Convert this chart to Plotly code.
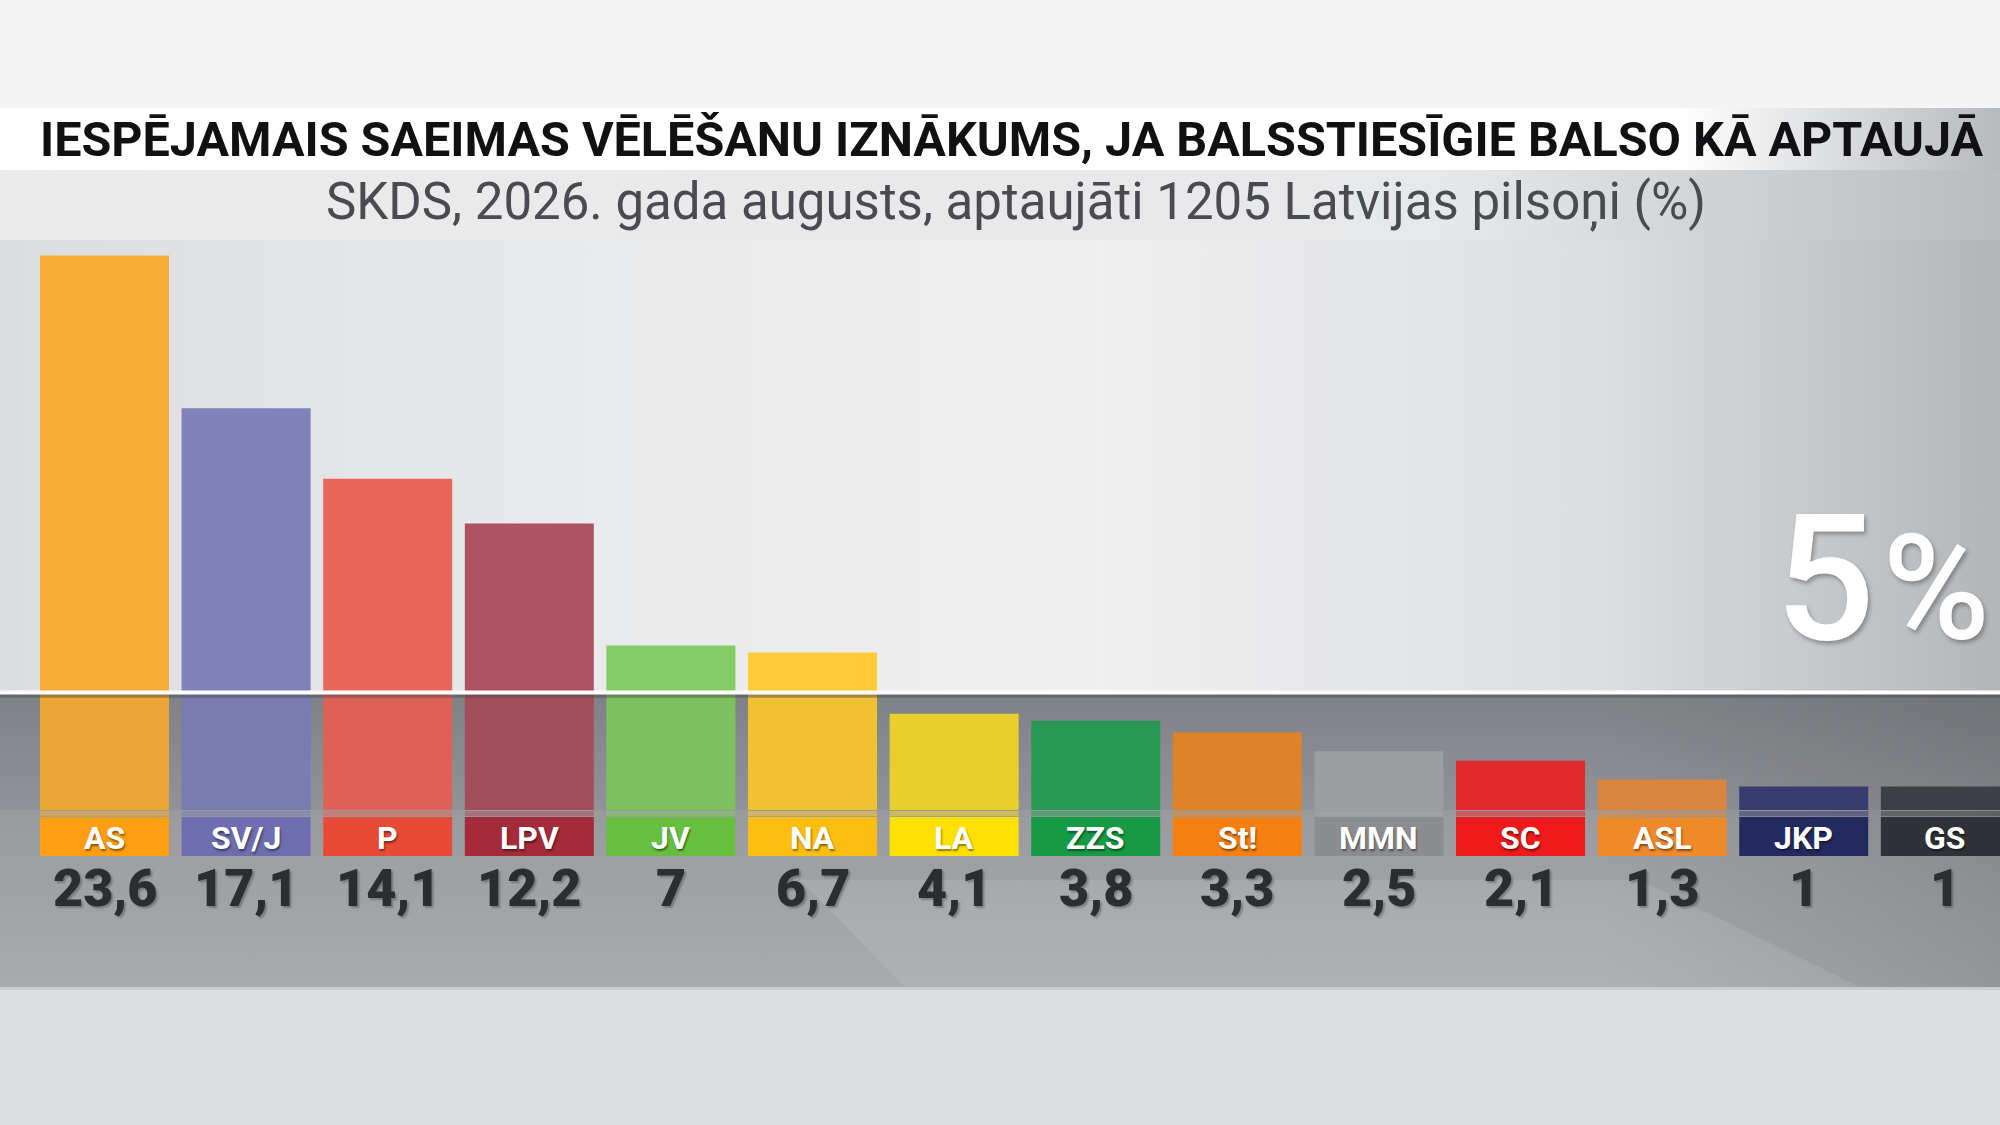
import base64

import plotly.graph_objects as go

# Poll data (SKDS, August 2026)
PARTIES = ["AS", "SV/J", "P", "LPV", "JV", "NA", "LA", "ZZS", "St!", "MMN", "SC", "ASL", "JKP", "GS"]
VALUES = [23.6, 17.1, 14.1, 12.2, 7, 6.7, 4.1, 3.8, 3.3, 2.5, 2.1, 1.3, 1, 1]
BAR_COLORS = [
    "#f7ad35", "#7f81b9", "#e8665a", "#ac5260", "#84cc64", "#fdcb36", "#f4da2c",
    "#2ba057", "#ea8a2c", "#a5a6a9", "#ee2b2d", "#e28c42", "#3a3f72", "#404347",
]
LABEL_COLORS = [
    "#ff9e12", "#6e6db0", "#e94a36", "#a52a3a", "#67bf40", "#fcbe10", "#ffe000",
    "#169a44", "#f57f10", "#8c8d90", "#ee1a1c", "#ee8a2a", "#232a60", "#2f3236",
]
THRESHOLD = 5

TITLE = "IESPĒJAMAIS SAEIMAS VĒLĒŠANU IZNĀKUMS, JA BALSSTIESĪGIE BALSO KĀ APTAUJĀ"
SUBTITLE = "SKDS, 2026. gada augusts, aptaujāti 1205 Latvijas pilsoņi (%)"

W, H = 2000, 1125
PLOT_TOP, PLOT_BOTTOM = 240, 987
Y_MIN, Y_MAX = -7.53, 24.26
X_MIN, X_MAX = -0.738, 13.386


def py(y):
    """Data y value -> pixel row."""
    return PLOT_TOP + (Y_MAX - y) / (Y_MAX - Y_MIN) * (PLOT_BOTTOM - PLOT_TOP)


def paper_y(row):
    """Pixel row -> paper y."""
    return (PLOT_BOTTOM - row) / (PLOT_BOTTOM - PLOT_TOP)


line_row = py(THRESHOLD)

# Background panels with gradients, as an inline svg image
svg = f"""<svg xmlns="http://www.w3.org/2000/svg" width="{W}" height="{H}" viewBox="0 0 {W} {H}">
<defs>
<linearGradient id="title" x1="0" x2="1" y1="0" y2="0">
<stop offset="0" stop-color="#ffffff"/><stop offset="0.84" stop-color="#ffffff"/><stop offset="1" stop-color="#b6b9bc"/>
</linearGradient>
<linearGradient id="sub" x1="0" x2="1" y1="0" y2="0">
<stop offset="0" stop-color="#ebebec"/><stop offset="0.72" stop-color="#e7e8e9"/><stop offset="1" stop-color="#b9bcbf"/>
</linearGradient>
<linearGradient id="upper" x1="0" x2="1" y1="0" y2="0">
<stop offset="0" stop-color="#dcdde0"/><stop offset="0.3" stop-color="#e9eaeb"/><stop offset="0.55" stop-color="#efeff0"/>
<stop offset="0.8" stop-color="#dcdee0"/><stop offset="1" stop-color="#b3b6b9"/>
</linearGradient>
<linearGradient id="lower" x1="0" x2="0" y1="0" y2="1">
<stop offset="0" stop-color="#86888c"/><stop offset="0.45" stop-color="#9a9ca0"/><stop offset="1" stop-color="#a8aaae"/>
</linearGradient>
<linearGradient id="lowerx" x1="0" x2="1" y1="0" y2="0">
<stop offset="0" stop-color="#000000" stop-opacity="0"/><stop offset="0.8" stop-color="#000000" stop-opacity="0"/>
<stop offset="1" stop-color="#000000" stop-opacity="0.12"/>
</linearGradient>
</defs>
<rect x="0" y="0" width="{W}" height="{H}" fill="#dcdfe1"/>
<rect x="0" y="0" width="{W}" height="108" fill="#f4f4f5"/>
<rect x="0" y="108" width="{W}" height="62" fill="url(#title)"/>
<rect x="0" y="170" width="{W}" height="70" fill="url(#sub)"/>
<rect x="0" y="240" width="{W}" height="{line_row - 240:.1f}" fill="url(#upper)"/>
<rect x="0" y="{line_row:.1f}" width="{W}" height="{PLOT_BOTTOM - line_row:.1f}" fill="url(#lower)"/>
<rect x="0" y="{line_row:.1f}" width="{W}" height="{PLOT_BOTTOM - line_row:.1f}" fill="url(#lowerx)"/>
<polygon points="905,{PLOT_BOTTOM} 1860,{PLOT_BOTTOM} 1640,880 800,880" fill="#ffffff" fill-opacity="0.09"/>
<rect x="0" y="{PLOT_BOTTOM}" width="{W}" height="3" fill="#c9ccce"/>
</svg>"""
bg_source = "data:image/svg+xml;base64," + base64.b64encode(svg.encode("utf-8")).decode("ascii")

x = list(range(len(PARTIES)))
BAR_WIDTH = 0.911

fig = go.Figure()

# Main bars
fig.add_trace(go.Bar(
    x=x,
    y=VALUES,
    width=BAR_WIDTH,
    marker=dict(color=BAR_COLORS, line_width=0),
    hoverinfo="skip",
))

# Thin lighter strip under each bar
fig.add_trace(go.Bar(
    x=x,
    y=[-0.22] * len(x),
    base=-0.04,
    width=BAR_WIDTH,
    marker=dict(color=BAR_COLORS, line_width=0),
    opacity=0.55,
    hoverinfo="skip",
))

# Coloured party label boxes
fig.add_trace(go.Bar(
    x=x,
    y=[-1.66] * len(x),
    base=-0.3,
    width=BAR_WIDTH,
    marker=dict(color=LABEL_COLORS, line_width=0),
    hoverinfo="skip",
))

# Party names and values
for i, (name, val) in enumerate(zip(PARTIES, VALUES)):
    fig.add_annotation(
        x=i, y=-1.2, text=name, showarrow=False,
        xanchor="center", yanchor="middle",
        font=dict(family="Roboto", size=32, weight="bold", color="white",
                  shadow="1px 2px 2px rgba(0,0,0,0.45)"),
    )
    fig.add_annotation(
        x=i, y=-3.35, text=f"{val:g}".replace(".", ","), showarrow=False,
        xanchor="center", yanchor="middle",
        font=dict(family="Roboto", size=52, weight=900, color="#2c2d31",
                  shadow="2px 2px 2px rgba(0,0,0,0.25)"),
    )

# Darken the part of the chart below the threshold line
fig.add_shape(
    type="rect", xref="paper", yref="y", x0=0, x1=1, y0=0, y1=THRESHOLD,
    fillcolor="rgba(20,20,35,0.05)", line_width=0, layer="above",
)
# Threshold line with a soft shadow
fig.add_shape(
    type="line", xref="paper", yref="y", x0=0, x1=1, y0=THRESHOLD - 0.14, y1=THRESHOLD - 0.14,
    line=dict(color="rgba(70,72,78,0.45)", width=4), layer="above",
)
fig.add_shape(
    type="line", xref="paper", yref="y", x0=0, x1=1, y0=THRESHOLD, y1=THRESHOLD,
    line=dict(color="white", width=4), layer="above",
)

fig.add_annotation(
    xref="paper", yref="y", x=0.996, y=THRESHOLD + 0.38,
    text=f"{THRESHOLD}<span style='font-size:30px'> </span><span style='font-size:146px'>%</span>",
    showarrow=False, xanchor="right", yanchor="bottom",
    font=dict(family="Roboto", size=176, weight=500, color="white",
              shadow="2px 3px 4px rgba(0,0,0,0.3)"),
)

# Title and subtitle
fig.add_annotation(
    xref="paper", yref="paper", x=38 / W, y=paper_y(139),
    text=TITLE, showarrow=False, xanchor="left", yanchor="middle",
    font=dict(family="Roboto", size=48.5, weight="bold", color="#111114"),
)
fig.add_annotation(
    xref="paper", yref="paper", x=1016 / W, y=paper_y(202),
    text=SUBTITLE, showarrow=False, xanchor="center", yanchor="middle",
    font=dict(family="Roboto", size=51, color="#4a4b50"),
)

plot_h = PLOT_BOTTOM - PLOT_TOP
fig.update_layout(
    width=W,
    height=H,
    autosize=False,
    margin=dict(l=0, r=0, t=PLOT_TOP, b=H - PLOT_BOTTOM, pad=0),
    paper_bgcolor="#dcdfe1",
    plot_bgcolor="rgba(0,0,0,0)",
    barmode="overlay",
    showlegend=False,
    xaxis=dict(range=[X_MIN, X_MAX], visible=False, fixedrange=True),
    yaxis=dict(range=[Y_MIN, Y_MAX], visible=False, fixedrange=True),
    images=[dict(
        source=bg_source, xref="paper", yref="paper",
        x=0, y=1 + PLOT_TOP / plot_h, sizex=1, sizey=H / plot_h,
        xanchor="left", yanchor="top", sizing="stretch", layer="below",
    )],
)

# the page body has a default margin, drop it so the chart sits flush
fig.write_html(
    "out.html",
    config={"displayModeBar": False},
    post_script="document.body.style.margin='0';document.body.style.overflow='hidden';",
)
